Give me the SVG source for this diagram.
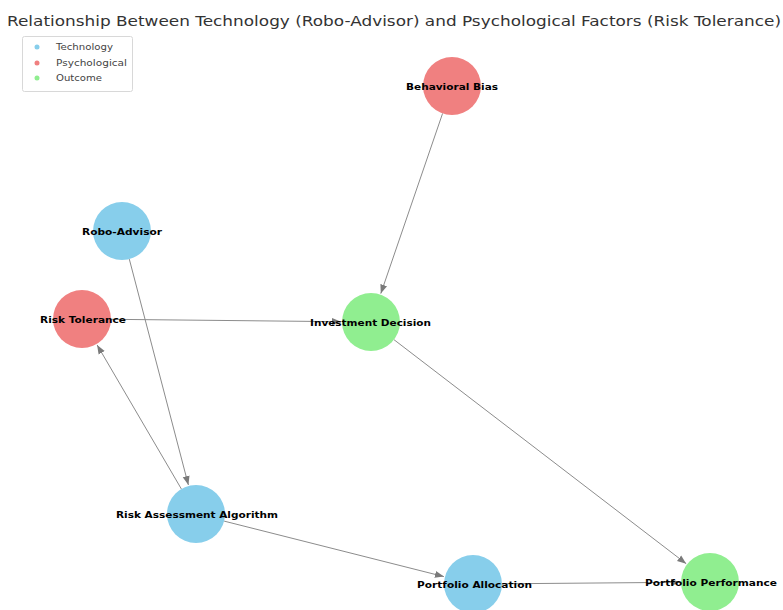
<svg xmlns="http://www.w3.org/2000/svg" width="783" height="610" viewBox="0 0 783 610">
<style>
.title{font-family:"DejaVu Sans",sans-serif;font-size:14px;fill:#333}
.lbl{font-family:"DejaVu Sans",sans-serif;font-size:9.5px;font-weight:bold;fill:#000;text-anchor:middle;dominant-baseline:central}
.leg{font-family:"DejaVu Sans",sans-serif;font-size:9px;fill:#444}
.edge{stroke:#8c8c8c;stroke-width:1;fill:none;marker-end:url(#arr)}
.tech{fill:#87CEEB}
.psy{fill:#F08080}
.out{fill:#90EE90}
</style>
<defs>
<marker id="arr" markerUnits="userSpaceOnUse" markerWidth="10" markerHeight="8" refX="9" refY="4" orient="auto">
<path d="M0,0.5 L9,4 L0,7.5 Z" fill="#7a7a7a"/>
</marker>
</defs>
<rect width="783" height="610" fill="#fff"/>
<text class="title" x="394" y="26" text-anchor="middle" textLength="774" lengthAdjust="spacingAndGlyphs">Relationship Between Technology (Robo-Advisor) and Psychological Factors (Risk Tolerance)</text>
<g id="legend">
<rect x="22.5" y="36.5" width="110" height="55" rx="2" fill="#fff" stroke="#d8d8d8"/>
<circle class="tech" cx="37" cy="47" r="2.5"/>
<text class="leg" x="56" y="50" textLength="57" lengthAdjust="spacingAndGlyphs">Technology</text>
<circle class="psy" cx="37" cy="63" r="2.5"/>
<text class="leg" x="56" y="66" textLength="71" lengthAdjust="spacingAndGlyphs">Psychological</text>
<circle class="out" cx="37" cy="78" r="2.5"/>
<text class="leg" x="56" y="81" textLength="46" lengthAdjust="spacingAndGlyphs">Outcome</text>
</g>
<g id="edges">
<line class="edge" x1="442.6" y1="113.4" x2="380.8" y2="293.6"/>
<line class="edge" x1="129.3" y1="259.1" x2="188.4" y2="485"/>
<line class="edge" x1="181.4" y1="489" x2="97.1" y2="344.9"/>
<line class="edge" x1="111" y1="319.3" x2="341" y2="321.7"/>
<line class="edge" x1="394" y1="339.7" x2="686.2" y2="563.7"/>
<line class="edge" x1="224.1" y1="521.1" x2="443.9" y2="576.6"/>
<line class="edge" x1="502" y1="583.8" x2="680" y2="582.3"/>
</g>
<g id="node-behavioral-bias"><circle class="psy" cx="452" cy="86" r="29"/><text class="lbl" x="452" y="86" textLength="92" lengthAdjust="spacingAndGlyphs">Behavioral Bias</text></g>
<g id="node-robo-advisor"><circle class="tech" cx="122" cy="231" r="29"/><text class="lbl" x="122" y="231" textLength="80" lengthAdjust="spacingAndGlyphs">Robo-Advisor</text></g>
<g id="node-risk-tolerance"><circle class="psy" cx="82" cy="319" r="29"/><text class="lbl" x="83" y="319" textLength="86" lengthAdjust="spacingAndGlyphs">Risk Tolerance</text></g>
<g id="node-investment-decision"><circle class="out" cx="371" cy="322" r="29"/><text class="lbl" x="370.5" y="322" textLength="121" lengthAdjust="spacingAndGlyphs">Investment Decision</text></g>
<g id="node-risk-assessment-algorithm"><circle class="tech" cx="196" cy="514" r="29"/><text class="lbl" x="197" y="514" textLength="162" lengthAdjust="spacingAndGlyphs">Risk Assessment Algorithm</text></g>
<g id="node-portfolio-allocation"><circle class="tech" cx="473" cy="584" r="29"/><text class="lbl" x="474.5" y="584" textLength="115" lengthAdjust="spacingAndGlyphs">Portfolio Allocation</text></g>
<g id="node-portfolio-performance"><circle class="out" cx="710" cy="582" r="29"/><text class="lbl" x="711" y="582" textLength="132" lengthAdjust="spacingAndGlyphs">Portfolio Performance</text></g>
</svg>
